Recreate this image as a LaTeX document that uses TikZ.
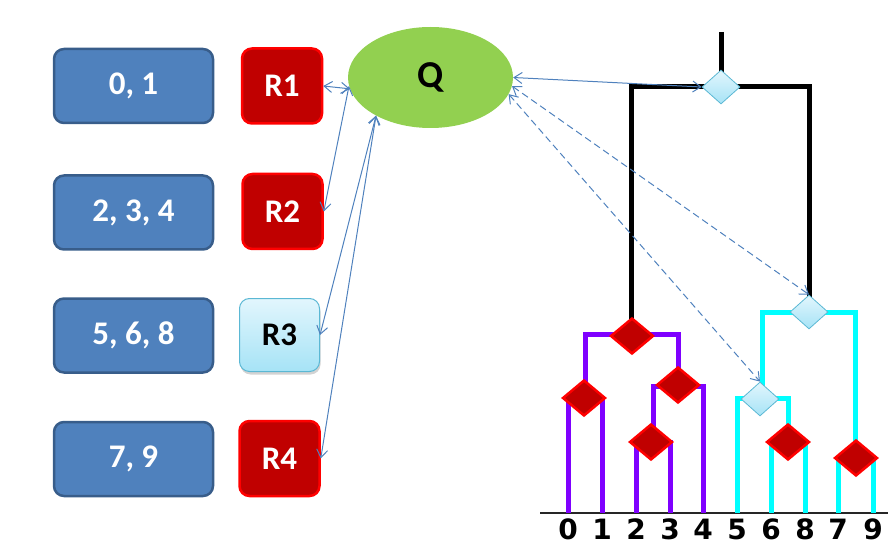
\documentclass[tikz,border=0pt]{standalone}
\usepackage{fontspec}
\setmainfont{Carlito}
\newfontfamily\leaffont{DejaVu Sans}
\usetikzlibrary{shapes.geometric,arrows.meta,shadows}

\definecolor{boxblue}{HTML}{4F81BD}
\definecolor{boxedge}{HTML}{385D8A}
\definecolor{darkred}{HTML}{C00000}
\definecolor{qgreen}{HTML}{92D050}
\definecolor{treepurple}{HTML}{7F00FF}
\definecolor{treecyan}{HTML}{00FFFF}
\definecolor{lightcyanA}{HTML}{E2F6FD}
\definecolor{lightcyanB}{HTML}{A6E3F6}
\definecolor{cyanedge}{HTML}{5BB8D4}
\definecolor{linkblue}{HTML}{4F81BD}

\tikzset{
  setbox/.style={draw=boxedge, line width=2.5pt, fill=boxblue, rounded corners=10pt,
    minimum width=159pt, minimum height=74pt, inner sep=0pt,
    text=white, font=\fontsize{33}{33}\selectfont\bfseries},
  regbox/.style={draw=red, line width=2.5pt, fill=darkred, rounded corners=10pt,
    minimum width=80pt, minimum height=75pt, inner sep=0pt,
    text=white, font=\fontsize{33}{33}\selectfont\bfseries},
  lightbox/.style={draw=cyanedge, line width=1pt, top color=lightcyanA, bottom color=lightcyanB,
    rounded corners=10pt, minimum width=80pt, minimum height=73pt, inner sep=0pt,
    text=black, font=\fontsize{33}{33}\selectfont\bfseries,
    drop shadow={opacity=0.35, shadow xshift=1pt, shadow yshift=-3pt}},
  reddia/.style={diamond, draw=red, line width=2.5pt, fill=darkred,
    minimum width=43pt, minimum height=36pt, inner sep=0pt},
  cyandia/.style={diamond, draw=cyanedge, line width=0.8pt, top color=lightcyanA,
    bottom color=lightcyanB, minimum width=38pt, minimum height=34pt, inner sep=0pt},
  purplebranch/.style={draw=treepurple, line width=5pt},
  cyanbranch/.style={draw=treecyan, line width=5pt},
  blackbranch/.style={draw=black, line width=5pt},
  link/.style={draw=linkblue, line width=1pt,
    {Straight Barb[length=8pt,width=11pt]}-{Straight Barb[length=8pt,width=11pt]}},
  dashlink/.style={link, dash pattern=on 7pt off 4pt},
  leaflabel/.style={font=\leaffont\fontsize{28}{28}\selectfont\bfseries, inner sep=0pt}
}

\begin{document}
\begin{tikzpicture}[x=1pt,y=-1pt]
\useasboundingbox (0,0) rectangle (888,545);

% member sets
\node[setbox] (s1) at (133.5,86) {0, 1};
\node[setbox] (s2) at (133.5,212.5) {2, 3, 4};
\node[setbox] (s3) at (133.5,335.5) {5, 6, 8};
\node[setbox] (s4) at (133.5,459) {7, 9};

% regions
\node[regbox] (r1) at (282,86) {R1};
\node[regbox] (r2) at (282.5,211.5) {R2};
\node[lightbox] (r3) at (279.5,335) {R3};
\node[regbox] (r4) at (279.5,458.5) {R4};

% query
\node[ellipse, fill=qgreen, minimum width=165pt, minimum height=101pt, inner sep=0pt,
  font=\fontsize{38}{38}\selectfont\bfseries] (q) at (430.5,77.5) {Q};

% tree geometry
\coordinate (top) at (721,32);
\coordinate (nr) at (721,87);
\coordinate (np) at (631,334);
\coordinate (nc) at (809,312);
\coordinate (n01) at (585,398);
\coordinate (n234) at (678,386);
\coordinate (n23) at (653,442);
\coordinate (n568) at (762,398);
\coordinate (n68) at (788,442);
\coordinate (n79) at (855,458);
\foreach \i/\x in {0/568,1/602,2/636,3/670,4/703,5/737,6/771,8/805,7/838,9/873}
  \coordinate (l\i) at (\x,513);

% leaf axis
\coordinate (axisL) at (540,513);
\coordinate (axisR) at (888,513);
\draw[line width=2pt, black!85] (axisL) -- (axisR);

% branches
\draw[blackbranch] (top) -- (nr);
\draw[blackbranch, line cap=round] (np) |- (nr) -| (nc);
\draw[purplebranch] (n01) |- (np) -| (n234);
\draw[purplebranch] (l0) |- (n01) -| (l1);
\draw[purplebranch] (n23) |- (n234) -| (l4);
\draw[purplebranch] (l2) |- (n23) -| (l3);
\draw[cyanbranch] (n568) |- (nc) -| (n79);
\draw[cyanbranch] (l5) |- (n568) -| (n68);
\draw[cyanbranch] (l6) |- (n68) -| (l8);
\draw[cyanbranch] (l7) |- (n79) -| (l9);

% tree nodes
\node[cyandia] (dr) at (nr) {};
\node[cyandia] (dc) at (nc) {};
\node[cyandia] (d568) at (760,399) {};
\node[reddia] (dp) at (632,336) {};
\node[reddia] (d01) at (584,398) {};
\node[reddia] (d234) at (678,385) {};
\node[reddia] (d23) at (651,442) {};
\node[reddia] (d68) at (788,442) {};
\node[reddia] (d79) at (856,458) {};

% leaf labels
\foreach \i/\x in {0/568,1/602,2/636,3/670,4/703,5/737,6/771,8/805,7/838,9/873}
  \node[leaflabel] (t\i) at (\x,529) {\i};

% links between query, regions and tree nodes
\draw[link] (r1.east) -- (q.188);
\draw[link] (q.186) -- (r2.east);
\draw[link] (q.215) -- (r3.east);
\draw[link] (q.215) -- (r4.east);
\draw[link] (q.east) -- (dr.west);
\draw[dashlink] (q.354) -- (dc.north);
\draw[dashlink] (q.348) -- (d568.north);
\end{tikzpicture}
\end{document}
